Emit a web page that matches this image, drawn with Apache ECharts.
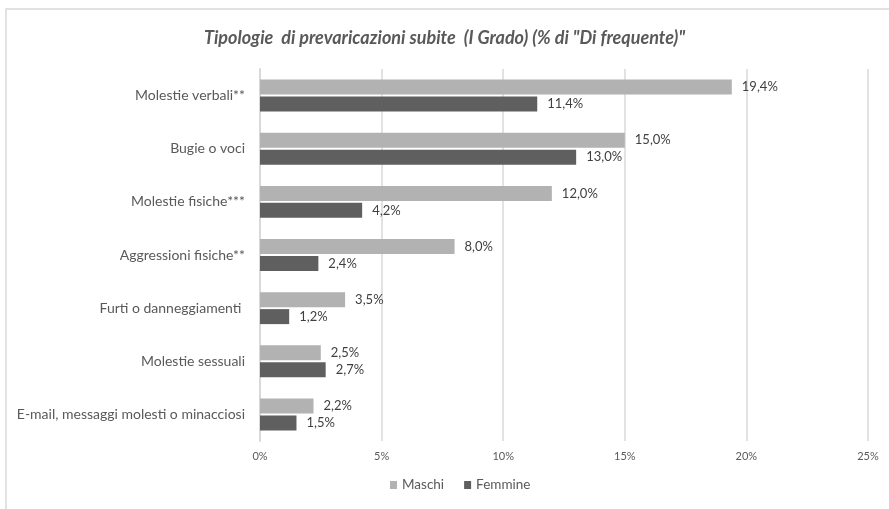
<!DOCTYPE html>
<html>
<head>
<meta charset="utf-8">
<script src="https://cdn.jsdelivr.net/npm/echarts@6/dist/echarts.min.js"></script>
<style>
  html, body { margin: 0; padding: 0; background: #fff; }
  #chart { width: 889px; height: 509px; }
</style>
</head>
<body>
<div id="chart"></div>
<script>
// categorie (dall'alto verso il basso)
const categories = [
  'Molestie verbali**',
  'Bugie o voci',
  'Molestie fisiche***',
  'Aggressioni fisiche**',
  'Furti o danneggiamenti ',
  'Molestie sessuali',
  'E-mail, messaggi molesti o minacciosi'
]
const maschi = [19.4, 15.0, 12.0, 8.0, 3.5, 2.5, 2.2]
const femmine = [11.4, 13.0, 4.2, 2.4, 1.2, 2.7, 1.5]
const xTicks = [0, 5, 10, 15, 20, 25]

const FONT = 'Lato, "Liberation Sans", sans-serif'
const TEXT = '#595959'

const chart = echarts.init(document.getElementById('chart'))

const labelFmt = p => p.value.toFixed(1).replace('.', ',') + '%'

const option = {
  backgroundColor: '#fff',
  title: {
    text: 'Tipologie  di prevaricazioni subite  (I Grado) (% di "Di frequente)"',
    left: 'center',
    top: 24,
    textStyle: {
      fontFamily: FONT,
      fontSize: 18,
      fontStyle: 'italic',
      fontWeight: 'bold',
      color: TEXT
    }
  },
  legend: {
    data: ['Maschi', 'Femmine'],
    bottom: 12,
    left: 385,
    icon: 'rect',
    itemWidth: 7,
    itemHeight: 8,
    itemGap: 20,
    textStyle: { fontFamily: FONT, fontSize: 13.5, color: TEXT }
  },
  grid: {
    left: 260,
    right: 21,
    top: 69,
    bottom: 68
  },
  xAxis: {
    type: 'value',
    min: xTicks[0],
    max: xTicks[xTicks.length - 1],
    interval: 5,
    axisLine: { show: false },
    axisTick: { show: false },
    splitLine: { lineStyle: { color: '#d9d9d9', width: 1.5 } },
    axisLabel: {
      margin: 10,
      fontFamily: FONT,
      fontSize: 11,
      color: TEXT,
      formatter: v => v + '%'
    }
  },
  yAxis: {
    type: 'category',
    data: categories,
    inverse: true,
    axisLine: { lineStyle: { color: '#d9d9d9', width: 2 } },
    axisTick: { show: false },
    axisLabel: {
      margin: 15,
      fontFamily: FONT,
      fontSize: 14,
      color: TEXT
    }
  },
  series: [
    {
      name: 'Maschi',
      type: 'bar',
      data: maschi,
      barWidth: 15,
      barGap: '13%',
      itemStyle: { color: '#b2b2b2' },
      label: {
        show: true,
        position: 'right',
        distance: 10,
        fontFamily: FONT,
        fontSize: 13,
        color: '#404040',
        formatter: labelFmt
      }
    },
    {
      name: 'Femmine',
      type: 'bar',
      data: femmine,
      barWidth: 15,
      barGap: '13%',
      itemStyle: { color: '#5f5f5f' },
      label: {
        show: true,
        position: 'right',
        distance: 10,
        fontFamily: FONT,
        fontSize: 13,
        color: '#404040',
        formatter: labelFmt
      }
    }
  ],
  graphic: [
    {
      type: 'rect',
      shape: { x: 6, y: 9, width: 900, height: 520 },
      style: { fill: 'none', stroke: '#d9d9d9', lineWidth: 1.5 },
      silent: true,
      z: -1
    }
  ]
}

chart.setOption(option)
</script>
</body>
</html>
